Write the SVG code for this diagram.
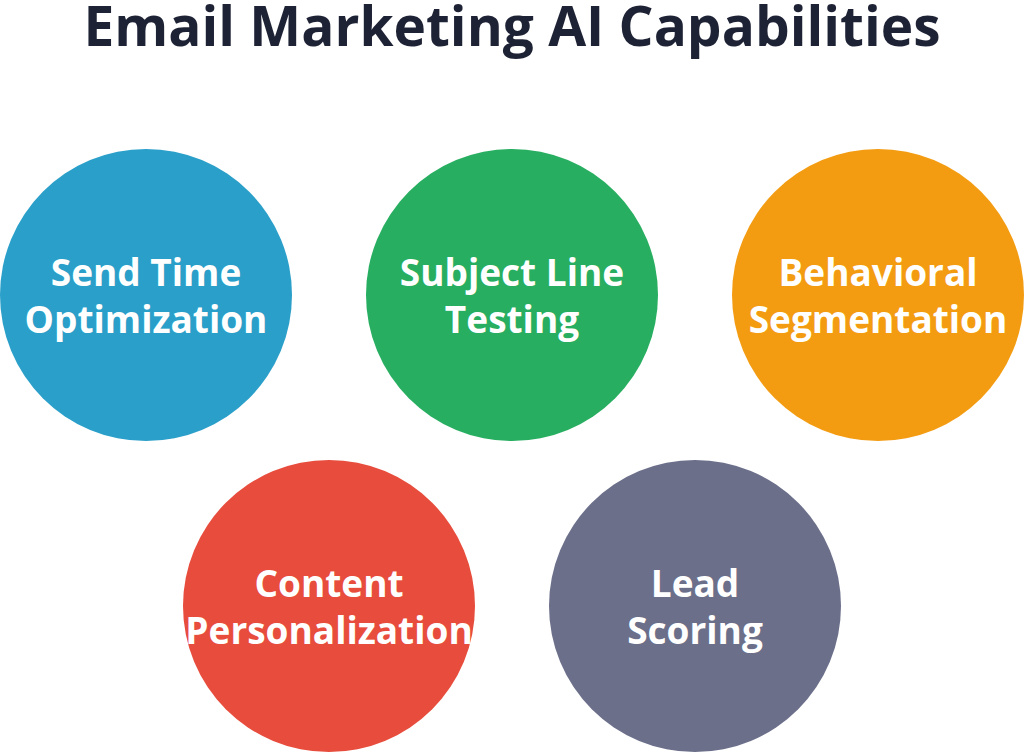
<svg xmlns="http://www.w3.org/2000/svg" width="1024" height="752" viewBox="0 0 1024 752">
<style>
.t{font-family:"Open Sans","Liberation Sans",sans-serif;font-weight:700;fill:#fff;font-size:37px;text-anchor:middle}
.h{font-family:"Open Sans","Liberation Sans",sans-serif;font-weight:700;fill:#1e2235;font-size:55px;text-anchor:middle}
</style>
<rect width="1024" height="752" fill="#fff"/>
<text class="h" x="512" y="46">Email Marketing AI Capabilities</text>
<g id="send-time"><circle cx="146" cy="295" r="146" fill="#2a9fc9"/><text class="t" x="146" y="286">Send Time</text><text class="t" x="146" y="333">Optimization</text></g>
<g id="subject-line"><circle cx="512" cy="295" r="146" fill="#27ae60"/><text class="t" x="512" y="286">Subject Line</text><text class="t" x="512" y="333">Testing</text></g>
<g id="behavioral"><circle cx="878" cy="295" r="146" fill="#f39c12"/><text class="t" x="878" y="286">Behavioral</text><text class="t" x="878" y="333">Segmentation</text></g>
<g id="content"><circle cx="329" cy="606" r="146" fill="#e74c3c"/><text class="t" x="329" y="597">Content</text><text class="t" x="329" y="644">Personalization</text></g>
<g id="lead"><circle cx="695" cy="606" r="146" fill="#6b6f8a"/><text class="t" x="695" y="597">Lead</text><text class="t" x="695" y="644">Scoring</text></g>
<g id="connectors"/>
</svg>
